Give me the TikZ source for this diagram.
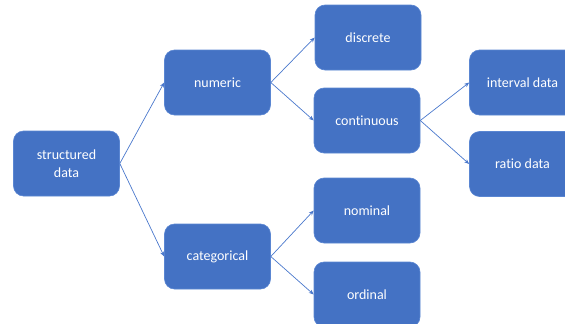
\documentclass[tikz,border=0pt]{standalone}
\usepackage{fontspec}
\setmainfont[Ligatures={NoCommon}]{Carlito}
\usetikzlibrary{arrows.meta}
\definecolor{boxblue}{HTML}{4472C4}
\definecolor{boxedge}{HTML}{5A86D2}
\definecolor{linkblue}{HTML}{4A78CC}
\begin{document}
\begin{tikzpicture}[x=1pt,y=-1pt,
  box/.style={draw=boxedge, line width=0.6pt, fill=boxblue, rounded corners=10pt,
    minimum width=106pt, minimum height=65pt, inner sep=0pt, align=center,
    text=white, font=\fontsize{14}{18}\selectfont},
  conn/.style={draw=linkblue, line width=0.7pt, -{Stealth[length=5pt,width=4pt]}}]
\useasboundingbox (0,0) rectangle (565,324);
\clip (0,0) rectangle (565,324);
\node[box] (sd) at (66.5,163.5) {structured\\data};
\node[box] (num) at (217.5,82.5) {numeric};
\node[box] (cat) at (217.5,256.5) {categorical};
\node[box] (dis) at (368,37.5) {discrete};
\node[box] (con) at (367,120.5) {continuous};
\node[box] (nom) at (367,210.5) {nominal};
\node[box] (ord) at (367,294.5) {ordinal};
\node[box] (int) at (522.5,82.5) {interval data};
\node[box] (rat) at (522.5,164) {ratio data};
\draw[conn] (sd.east) -- (num.west);
\draw[conn] (sd.east) -- (cat.west);
\draw[conn] (num.east) -- (dis.west);
\draw[conn] (num.east) -- (con.west);
\draw[conn] (cat.east) -- (nom.west);
\draw[conn] (cat.east) -- (ord.west);
\draw[conn] (con.east) -- (int.west);
\draw[conn] (con.east) -- (rat.west);
\end{tikzpicture}
\end{document}
